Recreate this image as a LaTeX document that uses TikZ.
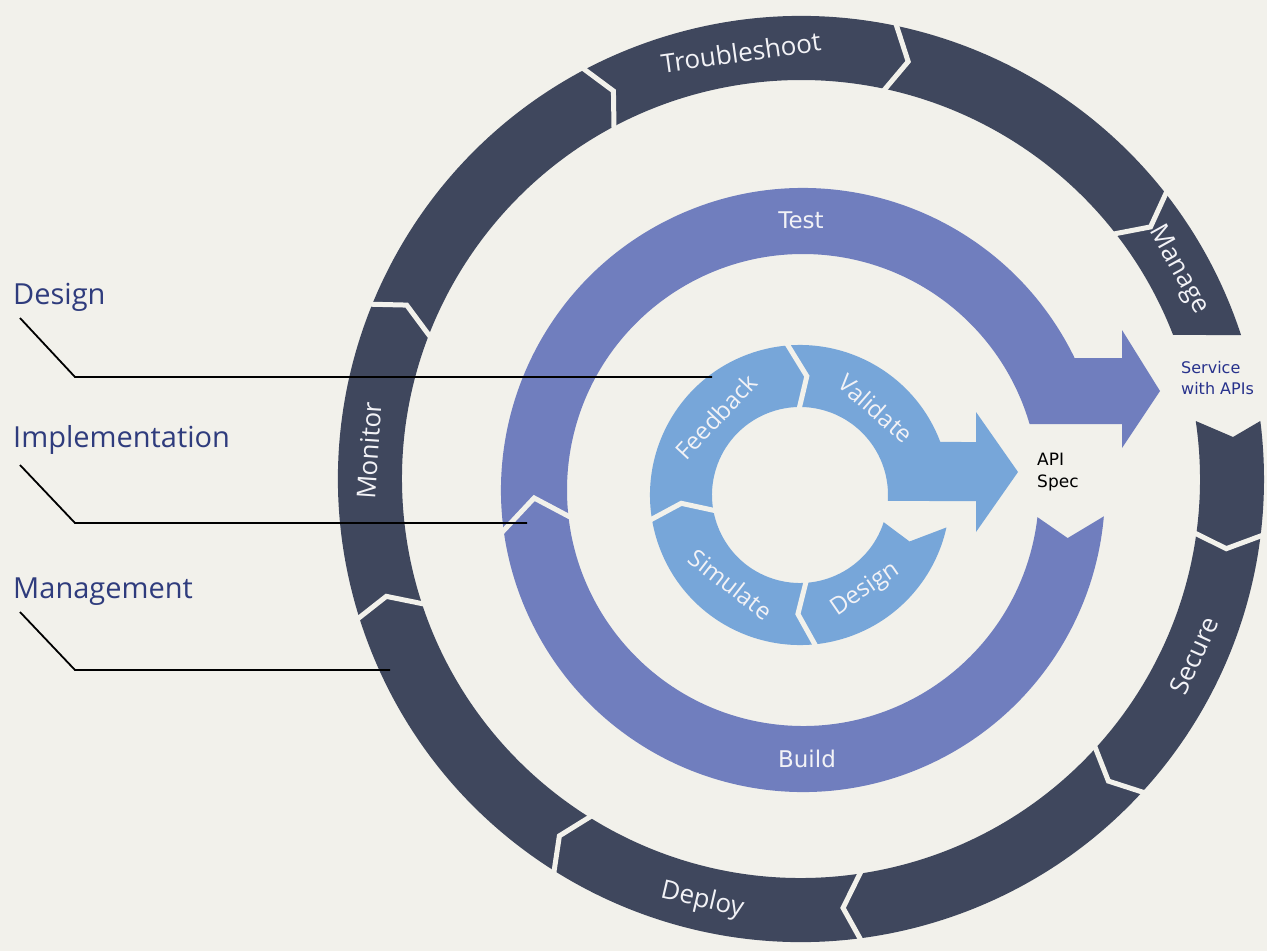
\documentclass[tikz,border=0pt]{standalone}
\usepackage{fontspec}
\setmainfont{Open Sans}
\newfontfamily\dejavu{DejaVu Sans}
\definecolor{bgc}{RGB}{242,241,235}
\definecolor{darkc}{RGB}{63,71,93}
\definecolor{purc}{RGB}{112,126,190}
\definecolor{lbc}{RGB}{119,166,217}
\definecolor{ringtxt}{RGB}{242,242,246}
\definecolor{leftc}{RGB}{47,60,125}
\definecolor{svcc}{RGB}{40,50,140}
\tikzset{
  sepline/.style={draw=bgc, line width=5pt},
  ringlab/.style={text=ringtxt, font=\fontsize{26}{30}\selectfont, inner sep=0pt},
  plab/.style={text=ringtxt, font=\dejavu\fontsize{23}{28}\selectfont, inner sep=0pt},
  llab/.style={text=ringtxt, font=\fontsize{24}{28}\selectfont, inner sep=0pt},
  leftlab/.style={text=leftc, font=\fontsize{29}{34}\selectfont, inner sep=0pt, anchor=base west},
  leader/.style={draw=black, line width=1.8pt},
}
\newcommand{\mychev}[7]{\draw[sepline] ([shift={(#2:#5)}]#1) -- ([shift={(#4:#7)}]#1) -- ([shift={(#3:#6)}]#1);}
\begin{document}
\begin{tikzpicture}[x=1pt,y=1pt]
\fill[bgc] (0,0) rectangle (1267,-951);
\useasboundingbox (0,0) rectangle (1267,-951);
\coordinate (CO) at (801,-479);
\coordinate (CP) at (803,-490);
\coordinate (CL) at (800,-495);

% outer ring
\fill[darkc] ([shift={(7.2:463pt)}]CO) -- (1233,-437) -- ([shift={(8.36:399pt)}]CO)
  arc[start angle=8.36, end angle=-338.84, radius=399pt]
  -- ([shift={(18.12:463pt)}]CO)
  arc[start angle=18.12, end angle=367.2, radius=463pt] -- cycle;
\mychev{CO}{-6.7}{-7.6}{-9.3}{469pt}{393pt}{431pt}
\mychev{CO}{-42.2}{-42.0}{-44.5}{469pt}{393pt}{431pt}
\mychev{CO}{-82.4}{-80.9}{-84.4}{469pt}{393pt}{431pt}
\mychev{CO}{-121.9}{-121.6}{-124.1}{469pt}{393pt}{431pt}
\mychev{CO}{-162.3}{-161.3}{-164.2}{469pt}{393pt}{431pt}
\mychev{CO}{158.1}{159.4}{156.2}{469pt}{393pt}{431pt}
\mychev{CO}{118.2}{118.4}{115.8}{469pt}{393pt}{431pt}
\mychev{CO}{78.5}{78.3}{75.6}{469pt}{393pt}{431pt}
\mychev{CO}{38.4}{38.4}{35.8}{469pt}{393pt}{431pt}

% purple ring
\fill[purc] ([shift={(-5:302pt)}]CP) -- ([shift={(-10.3:269pt)}]CP) -- ([shift={(-6.6:236pt)}]CP)
  arc[start angle=-6.6, end angle=-343.76, radius=236pt]
  -- (1122,-424) -- (1122,-448) -- (1160,-391) -- (1122,-330) -- (1122,-358)
  -- ([shift={(25.9:302pt)}]CP)
  arc[start angle=25.9, end angle=355, radius=302pt] -- cycle;
\mychev{CP}{188.6}{187.4}{181.7}{308pt}{230pt}{269pt}

% light blue ring
\fill[lbc] ([shift={(-12.5:150pt)}]CL) -- ([shift={(-23:119pt)}]CL) -- ([shift={(-18:88pt)}]CL)
  arc[start angle=-18, end angle=-363.9, radius=88pt]
  -- (976,-501) -- (976,-532) -- (1018,-472) -- (976,-412) -- (976,-442)
  -- ([shift={(20.7:150pt)}]CL)
  arc[start angle=20.7, end angle=347.5, radius=150pt] -- cycle;
\mychev{CL}{95.7}{91.3}{86.7}{156pt}{82pt}{119pt}
\mychev{CL}{190}{191.7}{184}{156pt}{82pt}{119pt}
\mychev{CL}{-83.4}{-84.9}{-91}{156pt}{82pt}{119pt}

% outer ring labels
\node[ringlab, rotate=8] (troub) at ([shift={(98:431pt)}]CO) {Troubleshoot};
\node[ringlab, rotate=-61] (manage) at ([shift={(29:431pt)}]CO) {Manage};
\node[ringlab, rotate=65.8] (secure) at ([shift={(-24.2:431pt)}]CO) {Secure};
\node[ringlab, rotate=-13.2] (deploy) at ([shift={(-103.2:433pt)}]CO) {Deploy};
\node[ringlab, rotate=86.2] (monitor) at ([shift={(176.2:433pt)}]CO) {Monitor};

% purple ring labels
\node[plab] (test) at (801,-220) {Test};
\node[plab] (build) at (807,-759) {Build};

% light blue labels
\node[llab, rotate=47] (feedback) at ([shift={(137:115pt)}]CL) {Feedback};
\node[llab, rotate=-41.3] (validate) at ([shift={(48.7:115pt)}]CL) {Validate};
\node[llab, rotate=-37.8] (simulate) at ([shift={(-127.8:113pt)}]CL) {Simulate};
\node[llab, rotate=34.7] (design) at ([shift={(-55.3:115pt)}]CL) {Design};

% API spec and service
\node[text=black, font=\dejavu\fontsize{17}{22}\selectfont, anchor=west, align=left, inner sep=0pt] (api) at (1037,-472) {API\\Spec};
\node[text=svcc, font=\dejavu\fontsize{16}{21}\selectfont, anchor=west, align=left, inner sep=0pt] (svc) at (1181,-378) {Service\\with APIs};

% left labels and leaders
\node[leftlab] (ldesign) at (13,-304) {Design};
\node[leftlab] (limpl) at (13,-447) {Implementation};
\node[leftlab] (lmgmt) at (13,-598) {Management};
\coordinate (d0) at (20,-318); \coordinate (d1) at (75,-377); \coordinate (d2) at (712,-377);
\coordinate (i0) at (20,-465); \coordinate (i1) at (75,-523); \coordinate (i2) at (527,-523);
\coordinate (m0) at (20,-612); \coordinate (m1) at (75,-670); \coordinate (m2) at (390,-670);
\draw[leader] (d0) -- (d1) -- (d2);
\draw[leader] (i0) -- (i1) -- (i2);
\draw[leader] (m0) -- (m1) -- (m2);
\end{tikzpicture}
\end{document}
